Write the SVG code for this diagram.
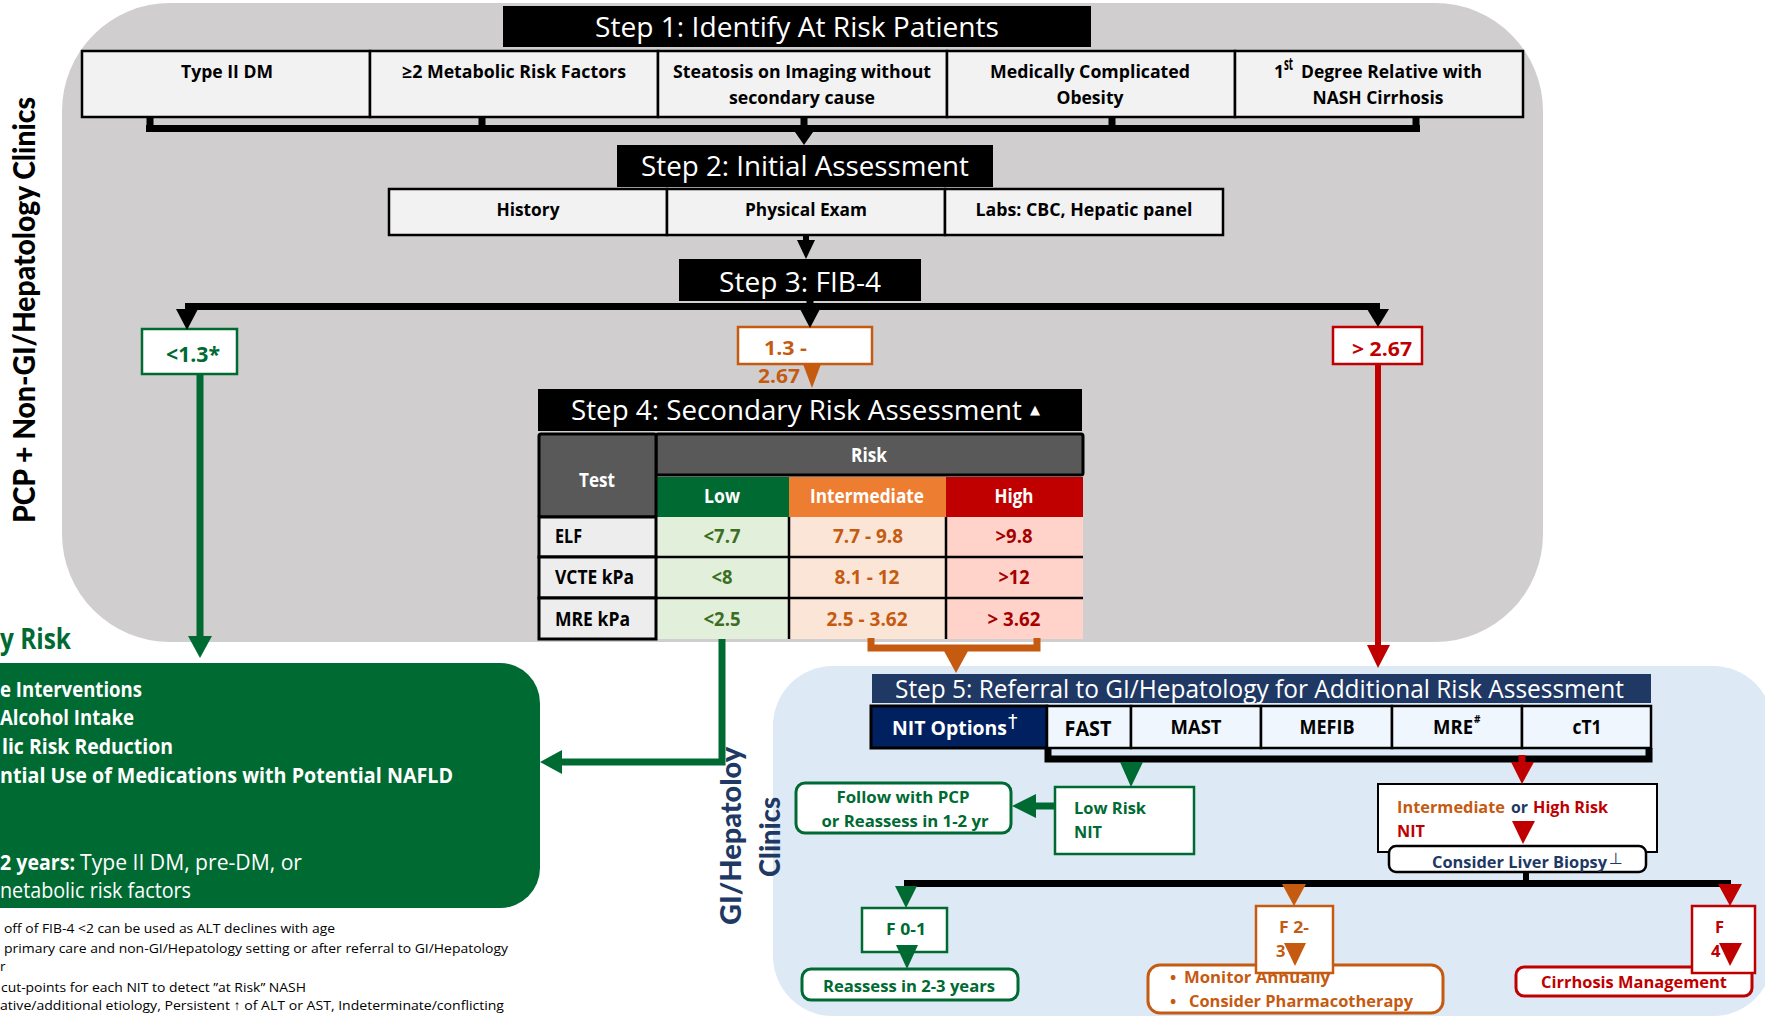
<svg xmlns="http://www.w3.org/2000/svg" width="1765" height="1019" viewBox="0 0 1765 1019">
<defs>
<style>
text{font-family:"Open Sans","Liberation Sans",sans-serif}
.lato{font-family:Lato,"Open Sans",sans-serif;font-weight:900}
.b{font-weight:700}
.c{text-anchor:middle}
.e{text-anchor:end}
.w{fill:#fff}
.k{fill:#000}
.g{fill:#006a33}
.o{fill:#c55a11}
.r{fill:#c00000}
.n{fill:#203864}
.hdr{font-size:27px}
.rf{fill:#f2f2f2;stroke:#000;stroke-width:2.5}
.l1{font-size:17.5px;font-weight:700;fill:#000}
.tb{font-size:19.5px;font-weight:700}
.nit{fill:#f0f6fd;stroke:#000;stroke-width:2.5}
.sm{font-size:16.5px;font-weight:700}
.gb{font-size:21px;font-weight:700;fill:#fff}
.fn{font-size:13.5px;fill:#000}
.sym{font-family:"DejaVu Sans",sans-serif}
.ln{fill:none;stroke-linecap:butt}
</style>
</defs>
<rect x="0" y="0" width="1765" height="1019" fill="#fff"/>

<g id="panel-pcp">
<rect x="62" y="3" width="1481" height="639" rx="108" fill="#d0cece"/>
<text class="lato c k" font-size="30" transform="translate(35,310) rotate(-90)" textLength="426" lengthAdjust="spacingAndGlyphs">PCP + Non-GI/Hepatology Clinics</text>
</g>

<g id="panel-gi">
<rect x="773" y="666" width="1000" height="350" rx="60" fill="#dde9f5"/>
<text class="lato c n" font-size="29" transform="translate(741,836) rotate(-90)" textLength="178" lengthAdjust="spacingAndGlyphs">GI/Hepatoloy</text>
<text class="lato c n" font-size="29" transform="translate(780,837) rotate(-90)" textLength="80" lengthAdjust="spacingAndGlyphs">Clinics</text>
</g>

<g id="step1">
<rect x="503" y="6" width="588" height="41" fill="#000"/>
<text x="797" y="37" class="c w hdr" textLength="404" lengthAdjust="spacingAndGlyphs">Step 1: Identify At Risk Patients</text>
</g>
<g id="rf-dm"><rect class="rf" x="82" y="51" width="288" height="66"/><text x="227" y="78" class="c l1" textLength="92" lengthAdjust="spacingAndGlyphs">Type II DM</text></g>
<g id="rf-metabolic"><rect class="rf" x="370" y="51" width="288" height="66"/><text x="514" y="78" class="c l1" textLength="224" lengthAdjust="spacingAndGlyphs">≥2 Metabolic Risk Factors</text></g>
<g id="rf-steatosis"><rect class="rf" x="658" y="51" width="289" height="66"/><text x="802" y="78" class="c l1" textLength="258" lengthAdjust="spacingAndGlyphs">Steatosis on Imaging without</text><text x="802" y="104" class="c l1" textLength="146" lengthAdjust="spacingAndGlyphs">secondary cause</text></g>
<g id="rf-obesity"><rect class="rf" x="947" y="51" width="288" height="66"/><text x="1090" y="78" class="c l1" textLength="200" lengthAdjust="spacingAndGlyphs">Medically Complicated</text><text x="1090" y="104" class="c l1" textLength="67" lengthAdjust="spacingAndGlyphs">Obesity</text></g>
<g id="rf-relative"><rect class="rf" x="1235" y="51" width="288" height="66"/><text x="1274" y="78" class="l1">1</text><text x="1284" y="70" class="l1" font-size="9" textLength="9" lengthAdjust="spacingAndGlyphs">st</text><text x="1301" y="78" class="l1" textLength="181" lengthAdjust="spacingAndGlyphs">Degree Relative with</text><text x="1378" y="104" class="c l1" textLength="131" lengthAdjust="spacingAndGlyphs">NASH Cirrhosis</text></g>

<g id="step2">
<rect x="617" y="145" width="376" height="42" fill="#000"/>
<text x="805" y="176" class="c w hdr" textLength="328" lengthAdjust="spacingAndGlyphs">Step 2: Initial Assessment</text>
</g>
<g id="a-history"><rect class="rf" x="389" y="189" width="278" height="46"/><text x="528" y="216" class="c l1" textLength="63" lengthAdjust="spacingAndGlyphs">History</text></g>
<g id="a-exam"><rect class="rf" x="667" y="189" width="278" height="46"/><text x="806" y="216" class="c l1" textLength="122" lengthAdjust="spacingAndGlyphs">Physical Exam</text></g>
<g id="a-labs"><rect class="rf" x="945" y="189" width="278" height="46"/><text x="1084" y="216" class="c l1" textLength="217" lengthAdjust="spacingAndGlyphs">Labs: CBC, Hepatic panel</text></g>

<g id="step3">
<rect x="679" y="259" width="242" height="42" fill="#000"/>
<text x="800" y="292" class="c w hdr" textLength="162" lengthAdjust="spacingAndGlyphs">Step 3: FIB-4</text>
</g>

<g id="fib-low">
<rect x="142" y="329" width="95" height="45" fill="#fff" stroke="#006a33" stroke-width="2.5"/>
<text x="193" y="362" class="c g b" font-size="21" textLength="54" lengthAdjust="spacingAndGlyphs">&lt;1.3*</text>
</g>
<g id="fib-mid">
<rect x="738" y="327" width="134" height="37" fill="#fff" stroke="#c55a11" stroke-width="2.5"/>
<text x="764" y="355" class="o b" font-size="20" textLength="43" lengthAdjust="spacingAndGlyphs">1.3 -</text>
<text x="758" y="383" class="o b" font-size="20" textLength="42" lengthAdjust="spacingAndGlyphs">2.67</text>
</g>
<g id="fib-high">
<rect x="1333" y="327" width="89" height="37" fill="#fff" stroke="#c00000" stroke-width="2.5"/>
<text x="1352" y="356" class="r b" font-size="20" textLength="60" lengthAdjust="spacingAndGlyphs">&gt; 2.67</text>
</g>

<g id="step4">
<rect x="538" y="389" width="544" height="42" fill="#000"/>
<text x="571" y="420" class="w hdr" textLength="451" lengthAdjust="spacingAndGlyphs">Step 4: Secondary Risk Assessment</text>
<text x="1030" y="414" class="w sym" font-size="13">▲</text>
</g>

<g id="risk-table">
<rect x="656" y="477" width="133" height="40" fill="#006a33"/>
<rect x="789" y="477" width="157" height="40" fill="#ed7d31"/>
<rect x="946" y="477" width="137" height="40" fill="#c00000"/>
<rect x="656" y="517" width="133" height="122" fill="#e2efda"/>
<rect x="789" y="517" width="157" height="122" fill="#fbe5d6"/>
<rect x="946" y="517" width="137" height="122" fill="#ffd3c9"/>
<rect x="656" y="434" width="427" height="41" fill="#595959" stroke="#000" stroke-width="3" rx="2"/>
<rect x="539" y="434" width="117" height="83" fill="#595959" stroke="#000" stroke-width="3" rx="2"/>
<rect x="539" y="517" width="117" height="40" fill="#ededed" stroke="#000" stroke-width="3"/>
<rect x="539" y="557" width="117" height="41" fill="#ededed" stroke="#000" stroke-width="3"/>
<rect x="539" y="598" width="117" height="41" fill="#ededed" stroke="#000" stroke-width="3"/>
<path d="M789,517V639M946,517V639M656,557H1083M656,598H1083" stroke="#000" stroke-width="2.5" fill="none"/>
<text x="597" y="487" class="c w tb" textLength="36" lengthAdjust="spacingAndGlyphs">Test</text>
<text x="869" y="462" class="c w tb" textLength="36" lengthAdjust="spacingAndGlyphs">Risk</text>
<text x="722" y="503" class="c w tb" textLength="36" lengthAdjust="spacingAndGlyphs">Low</text>
<text x="867" y="503" class="c w tb" textLength="114" lengthAdjust="spacingAndGlyphs">Intermediate</text>
<text x="1014" y="503" class="c w tb" textLength="39" lengthAdjust="spacingAndGlyphs">High</text>
<text x="555" y="543" class="k tb" textLength="27" lengthAdjust="spacingAndGlyphs">ELF</text>
<text x="555" y="584" class="k tb" textLength="79" lengthAdjust="spacingAndGlyphs">VCTE kPa</text>
<text x="555" y="626" class="k tb" textLength="75" lengthAdjust="spacingAndGlyphs">MRE kPa</text>
<text x="722" y="543" class="c tb" fill="#3b6e22" textLength="37" lengthAdjust="spacingAndGlyphs">&lt;7.7</text>
<text x="722" y="584" class="c tb" fill="#3b6e22" textLength="21" lengthAdjust="spacingAndGlyphs">&lt;8</text>
<text x="722" y="626" class="c tb" fill="#3b6e22" textLength="37" lengthAdjust="spacingAndGlyphs">&lt;2.5</text>
<text x="868" y="543" class="c tb o" textLength="70" lengthAdjust="spacingAndGlyphs">7.7 - 9.8</text>
<text x="867" y="584" class="c tb o" textLength="65" lengthAdjust="spacingAndGlyphs">8.1 - 12</text>
<text x="867" y="626" class="c tb o" textLength="81" lengthAdjust="spacingAndGlyphs">2.5 - 3.62</text>
<text x="1014" y="543" class="c tb" fill="#a50000" textLength="37" lengthAdjust="spacingAndGlyphs">&gt;9.8</text>
<text x="1014" y="584" class="c tb" fill="#a50000" textLength="31" lengthAdjust="spacingAndGlyphs">&gt;12</text>
<text x="1014" y="626" class="c tb" fill="#a50000" textLength="53" lengthAdjust="spacingAndGlyphs">&gt; 3.62</text>
</g>

<g id="low-risk-box">
<text x="0" y="649" class="g b" font-size="29" textLength="71" lengthAdjust="spacingAndGlyphs">y Risk</text>
<rect x="-40" y="663" width="580" height="245" rx="40" fill="#006a33"/>
<text x="0" y="697" class="gb" textLength="142" lengthAdjust="spacingAndGlyphs">e Interventions</text>
<text x="0" y="725" class="gb" textLength="134" lengthAdjust="spacingAndGlyphs">Alcohol Intake</text>
<text x="2" y="754" class="gb" textLength="171" lengthAdjust="spacingAndGlyphs">lic Risk Reduction</text>
<text x="0" y="783" class="gb" textLength="453" lengthAdjust="spacingAndGlyphs">ntial Use of Medications with Potential NAFLD</text>
<text x="0" y="870" class="gb" textLength="75" lengthAdjust="spacingAndGlyphs">2 years:</text>
<text x="80" y="870" class="w" font-size="21" textLength="222" lengthAdjust="spacingAndGlyphs">Type II DM, pre-DM, or</text>
<text x="0" y="898" class="w" font-size="21" textLength="191" lengthAdjust="spacingAndGlyphs">netabolic risk factors</text>
</g>

<g id="footnotes">
<text x="4" y="933" class="fn" textLength="331" lengthAdjust="spacingAndGlyphs">off of FIB-4 &lt;2 can be used as ALT declines with age</text>
<text x="4" y="953" class="fn" textLength="504" lengthAdjust="spacingAndGlyphs">primary care and non-GI/Hepatology setting or after referral to GI/Hepatology</text>
<text x="0" y="971" class="fn">r</text>
<text x="1" y="992" class="fn" textLength="305" lengthAdjust="spacingAndGlyphs">cut-points for each NIT to detect &#8221;at Risk&#8221; NASH</text>
<text x="0" y="1010" class="fn" textLength="504" lengthAdjust="spacingAndGlyphs">ative/additional etiology, Persistent ↑ of ALT or AST, Indeterminate/conflicting</text>
</g>

<g id="step5">
<rect x="872" y="674" width="779" height="29" fill="#1f3864"/>
<text x="895" y="698" class="w" font-size="25" textLength="729" lengthAdjust="spacingAndGlyphs">Step 5: Referral to GI/Hepatology for Additional Risk Assessment</text>
</g>
<g id="nit-options">
<rect x="871" y="706" width="176" height="42" fill="#002060" stroke="#000" stroke-width="3"/>
<text x="892" y="735" class="w b" font-size="20" textLength="115" lengthAdjust="spacingAndGlyphs">NIT Options</text>
<text x="1008" y="728" class="w sym" font-size="19">†</text>
</g>
<g id="nit-fast"><rect class="nit" x="1047" y="706" width="84" height="42"/><text x="1088" y="736" class="c k b" font-size="21" textLength="47" lengthAdjust="spacingAndGlyphs">FAST</text></g>
<g id="nit-mast"><rect class="nit" x="1131" y="706" width="130" height="42"/><text x="1196" y="734" class="c k b" font-size="19" textLength="51" lengthAdjust="spacingAndGlyphs">MAST</text></g>
<g id="nit-mefib"><rect class="nit" x="1261" y="706" width="131" height="42"/><text x="1327" y="734" class="c k b" font-size="19" textLength="55" lengthAdjust="spacingAndGlyphs">MEFIB</text></g>
<g id="nit-mre"><rect class="nit" x="1392" y="706" width="130" height="42"/><text x="1453" y="734" class="c k b" font-size="19" textLength="40" lengthAdjust="spacingAndGlyphs">MRE</text><text x="1474" y="723" class="k b" font-size="10">#</text></g>
<g id="nit-ct1"><rect class="nit" x="1522" y="706" width="129" height="42"/><text x="1587" y="734" class="c k b" font-size="19" textLength="29" lengthAdjust="spacingAndGlyphs">cT1</text></g>

<g id="low-risk-nit">
<rect x="1055" y="787" width="139" height="67" fill="#fff" stroke="#006a33" stroke-width="2.5"/>
<text x="1074" y="814" class="g sm" textLength="72" lengthAdjust="spacingAndGlyphs">Low Risk</text>
<text x="1074" y="838" class="g sm" textLength="28" lengthAdjust="spacingAndGlyphs">NIT</text>
</g>
<g id="follow-pcp">
<rect x="796" y="783" width="215" height="50" rx="9" fill="#fff" stroke="#006a33" stroke-width="3"/>
<text x="903" y="803" class="c g sm" textLength="133" lengthAdjust="spacingAndGlyphs">Follow with PCP</text>
<text x="905" y="827" class="c g sm" textLength="167" lengthAdjust="spacingAndGlyphs">or Reassess in 1-2 yr</text>
</g>
<g id="int-high-nit">
<rect x="1378" y="784" width="279" height="68" fill="#fff" stroke="#000" stroke-width="2"/>
<text x="1397" y="813" class="o sm" font-size="17" textLength="108" lengthAdjust="spacingAndGlyphs">Intermediate</text>
<text x="1511" y="813" class="n sm" font-size="17" textLength="17" lengthAdjust="spacingAndGlyphs">or</text>
<text x="1533" y="813" class="r sm" font-size="17" textLength="75" lengthAdjust="spacingAndGlyphs">High Risk</text>
<text x="1397" y="837" class="r sm" font-size="17" textLength="28" lengthAdjust="spacingAndGlyphs">NIT</text>
</g>
<g id="liver-biopsy">
<rect x="1389" y="846" width="257" height="26" rx="7" fill="#fff" stroke="#000" stroke-width="2.5"/>
<text x="1432" y="868" class="n sm" textLength="175" lengthAdjust="spacingAndGlyphs">Consider Liver Biopsy</text>
<text x="1609" y="864" class="n sym" font-size="16">⊥</text>
</g>
<g id="f01">
<rect x="862" y="908" width="85" height="44" fill="#fff" stroke="#006a33" stroke-width="2.5"/>
<text x="906" y="935" class="c g sm" textLength="40" lengthAdjust="spacingAndGlyphs">F 0-1</text>
</g>
<g id="reassess">
<rect x="802" y="969" width="216" height="31" rx="9" fill="#fff" stroke="#006a33" stroke-width="3"/>
<text x="909" y="992" class="c g sm" textLength="172" lengthAdjust="spacingAndGlyphs">Reassess in 2-3 years</text>
</g>
<g id="monitor">
<rect x="1148" y="965" width="295" height="48" rx="12" fill="#fff" stroke="#c55a11" stroke-width="3"/>
<text x="1170" y="983" class="o sm">•</text>
<text x="1184" y="983" class="o sm" textLength="146" lengthAdjust="spacingAndGlyphs">Monitor Annually</text>
<text x="1170" y="1007" class="o sm">•</text>
<text x="1189" y="1007" class="o sm" textLength="224" lengthAdjust="spacingAndGlyphs">Consider Pharmacotherapy</text>
</g>
<g id="f23">
<rect x="1256" y="906" width="77" height="67" fill="#fff" stroke="#c55a11" stroke-width="2.5"/>
<text x="1279" y="933" class="o sm" textLength="30" lengthAdjust="spacingAndGlyphs">F 2-</text>
<text x="1276" y="957" class="o sm">3</text>
</g>
<g id="cirrhosis">
<rect x="1516" y="967" width="236" height="29" rx="8" fill="#fff" stroke="#c00000" stroke-width="3"/>
<text x="1634" y="988" class="c r sm" font-size="17" textLength="186" lengthAdjust="spacingAndGlyphs">Cirrhosis Management</text>
</g>
<g id="f4">
<rect x="1692" y="906" width="63" height="67" fill="#fff" stroke="#c00000" stroke-width="2.5"/>
<text x="1715" y="933" class="r sm">F</text>
<text x="1711" y="957" class="r sm">4</text>
</g>

<g id="connectors">
<path class="ln" stroke="#000" stroke-width="7" d="M150,117V128M482,117V128M1112,117V128M1416,117V128M146,128.5H1420M804,117V134"/>
<polygon fill="#000" points="795,132 813,132 804,145"/>
<path class="ln" stroke="#000" stroke-width="6" d="M806,235V243"/>
<polygon fill="#000" points="797,240 815,240 806,259"/>
<path class="ln" stroke="#000" stroke-width="7" d="M185,306.5H1380M810,301V310"/>
<polygon fill="#000" points="176,309 198,309 187,330"/>
<polygon fill="#000" points="800,309 820,309 810,328"/>
<polygon fill="#000" points="1367,309 1389,309 1378,327"/>
<polygon fill="#c55a11" points="803,364 821,364 812,388"/>
<path class="ln" stroke="#006a33" stroke-width="7" d="M200,374V638"/>
<polygon fill="#006a33" points="188,636 212,636 200,658"/>
<path class="ln" stroke="#c00000" stroke-width="6" d="M1378,364V647"/>
<polygon fill="#c00000" points="1367,645 1390,645 1378,668"/>
<path class="ln" stroke="#006a33" stroke-width="7" d="M722,639V762H558"/>
<polygon fill="#006a33" points="562,750 562,774 540,762"/>
<path class="ln" stroke="#c55a11" stroke-width="7" d="M871,638V648H1037V638"/>
<polygon fill="#c55a11" points="944,651 968,651 956,673"/>
<path class="ln" stroke="#000" stroke-width="7" d="M1048,748V759H1649V748"/>
<polygon fill="#006a33" points="1120,762 1143,762 1131,787"/>
<path class="ln" stroke="#006a33" stroke-width="7" d="M1055,806H1033"/>
<polygon fill="#006a33" points="1036,794 1036,818 1012,806"/>
<path class="ln" stroke="#c00000" stroke-width="7" d="M1522,755V764"/>
<polygon fill="#c00000" points="1511,762 1534,762 1522,784"/>
<polygon fill="#c00000" points="1512,821 1535,821 1523,844"/>
<path class="ln" stroke="#000" stroke-width="6" d="M1526,872V883"/>
<path class="ln" stroke="#000" stroke-width="7" d="M904,883.5H1731"/>
<polygon fill="#006a33" points="895,886 917,886 906,908"/>
<polygon fill="#c55a11" points="1282,884 1306,884 1294,906"/>
<polygon fill="#c00000" points="1718,884 1742,884 1730,906"/>
<polygon fill="#006a33" points="896,945 918,945 907,969"/>
<polygon fill="#c55a11" points="1284,943 1306,943 1295,966"/>
<polygon fill="#c00000" points="1719,943 1742,943 1730,966"/>
</g>
</svg>
